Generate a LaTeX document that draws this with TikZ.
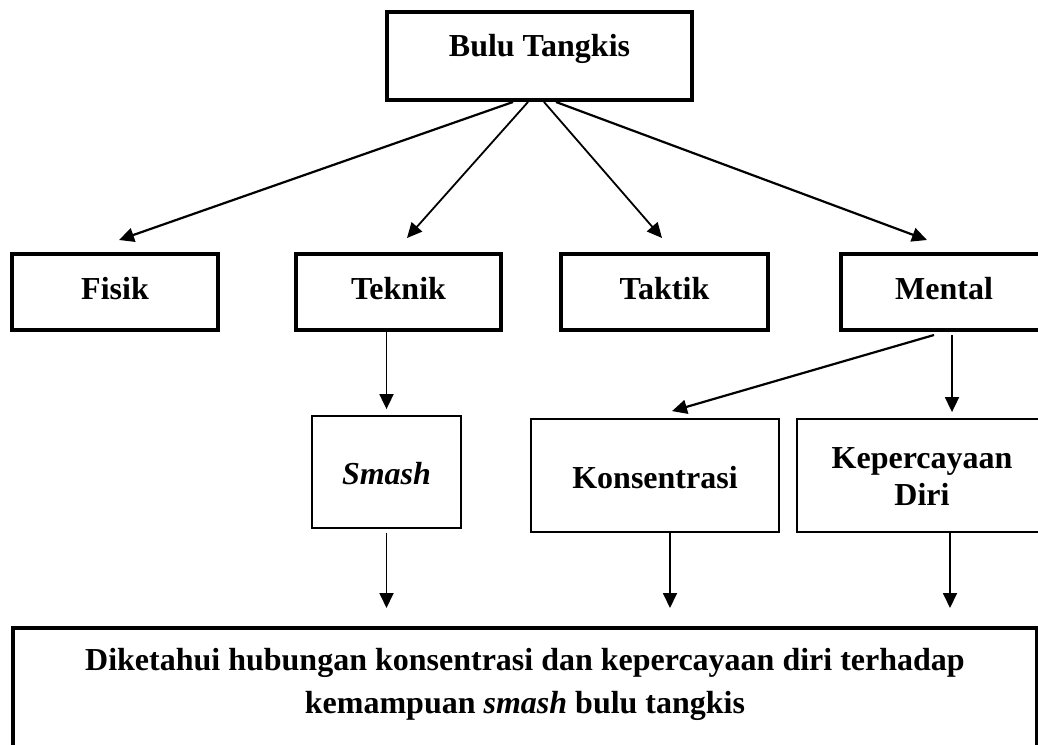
\documentclass[tikz,border=0pt]{standalone}
\usepackage{fontspec}
\setmainfont{Liberation Serif}
\usetikzlibrary{arrows.meta}
\tikzset{
  thickbox/.style={draw, line width=4pt, inner sep=0pt, rectangle},
  thinbox/.style={draw, line width=1.8pt, inner sep=0pt, rectangle},
  txt/.style={font=\fontsize{32}{37}\selectfont\bfseries, align=center},
  arr/.style={line width=1.8pt, -{Triangle[length=15pt,width=14pt]}},
}
\begin{document}
\begin{tikzpicture}[x=1pt,y=-1pt]
\useasboundingbox (0,0) rectangle (1038,744);
\clip (0,0) rectangle (1038,744);
\node[thickbox, txt, minimum width=305pt, minimum height=88pt, text height=44pt, text depth=44pt] (top) at (539.5,56) {Bulu Tangkis};
\node[thickbox, txt, minimum width=206pt, minimum height=76pt, text height=45pt, text depth=31pt] (fisik) at (115,292) {Fisik};
\node[thickbox, txt, minimum width=205pt, minimum height=76pt, text height=45pt, text depth=31pt] (teknik) at (398.5,292) {Teknik};
\node[thickbox, txt, minimum width=207pt, minimum height=76pt, text height=45pt, text depth=31pt] (taktik) at (664.5,292) {Taktik};
\node[thickbox, txt, minimum width=206pt, minimum height=76pt, text height=45pt, text depth=31pt] (mental) at (944,292) {Mental};
\node[thinbox, txt, minimum width=149pt, minimum height=112pt, text height=68pt, text depth=44pt] (smash) at (386.5,472) {\itshape Smash};
\node[thinbox, txt, minimum width=248pt, minimum height=113pt, text height=69pt, text depth=44pt] (konsen) at (655,475.5) {Konsentrasi};
\node[thinbox, txt, minimum width=250pt, minimum height=113pt, text height=86pt, text depth=27pt] (kep) at (922,475.5) {Kepercayaan\\Diri};
\node[thickbox, txt, font=\fontsize{32}{43}\selectfont\bfseries, minimum width=1024pt, minimum height=142pt, text height=85pt, text depth=57pt] (goal) at (525,699) {Diketahui hubungan konsentrasi dan kepercayaan diri terhadap\\kemampuan \textit{smash} bulu tangkis};
% top arrows
\draw[arr, line width=2.2pt] ([xshift=-26.5pt]top.south) -- ([xshift=4pt,yshift=12pt]fisik.north);
\draw[arr] ([xshift=-11.5pt]top.south) -- ([xshift=8.5pt,yshift=14pt]teknik.north);
\draw[arr] ([xshift=4.5pt]top.south) -- ([xshift=-2.5pt,yshift=14pt]taktik.north);
\draw[arr, line width=2.2pt] ([xshift=16.5pt]top.south) -- ([xshift=-17pt,yshift=12pt]mental.north);
% second level
\draw[arr] (smash.north |- teknik.south) -- ([yshift=6pt]smash.north);
\draw[arr, line width=2.2pt] ([xshift=-10pt,yshift=-3pt]mental.south) -- ([xshift=17pt,yshift=7pt]konsen.north);
\coordinate (mk) at ([xshift=8pt,yshift=-3pt]mental.south);
\draw[arr] (mk) -- ([yshift=6pt]mk |- kep.north);
% bottom arrows
\draw[arr] ([yshift=-4pt]smash.south) -- ([yshift=18pt]smash.south |- goal.north);
\draw[arr] ([xshift=15pt]konsen.south) -- ([xshift=15pt,yshift=18pt]konsen.south |- goal.north);
\draw[arr] ([xshift=28pt]kep.south) -- ([xshift=28pt,yshift=18pt]kep.south |- goal.north);
\end{tikzpicture}
\end{document}
